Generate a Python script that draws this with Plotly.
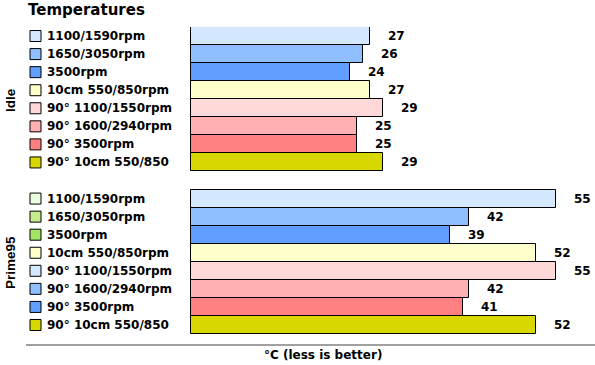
import plotly.graph_objects as go

W, H = 595, 365

groups = ["Idle", "Prime95"]
series = ["1100/1590rpm", "1650/3050rpm", "3500rpm", "10cm 550/850rpm",
          "90° 1100/1550rpm", "90° 1600/2940rpm", "90° 3500rpm", "90° 10cm 550/850"]
idle_values = [27, 26, 24, 27, 29, 25, 25, 29]
prime_values = [55, 42, 39, 52, 55, 42, 41, 52]
bar_colors = ["#d4e8ff", "#8fbfff", "#609fff", "#ffffcc",
              "#ffd8d8", "#ffb0b0", "#ff8080", "#d8d800"]
idle_swatch = bar_colors
prime_swatch = ["#eaffdd", "#c4ec8c", "#a4e664", "#ffffcc",
                "#d4e8ff", "#8fbfff", "#609fff", "#d8d800"]

cats, vals, cols, sw, labels = [], [], [], [], []
for g, values, swatches in [("Idle", idle_values, idle_swatch), ("Prime95", prime_values, prime_swatch)]:
    for s, v, c, sc in zip(series, values, bar_colors, swatches):
        cats.append(g + "|" + s)
        vals.append(v)
        cols.append(c)
        sw.append(sc)
        labels.append(s)
all_cats = cats[:8] + ["spacer"] + cats[8:]

px_per_unit = 6.63
x0_px = 191
axis_left_px = 26
xmin = -(x0_px - axis_left_px) / px_per_unit
xmax = (W - x0_px) / px_per_unit
swatch_x = (35.5 - x0_px) / px_per_unit

fig = go.Figure()
fig.add_trace(go.Bar(
    y=cats, x=vals, orientation="h",
    marker=dict(color=cols, line=dict(color="black", width=1)),
    width=1.0, hoverinfo="x+y", showlegend=False,
))
fig.add_trace(go.Scatter(
    y=cats, x=[swatch_x] * len(cats), mode="markers",
    marker=dict(symbol="square", size=11, color=sw, line=dict(color="black", width=1)),
    showlegend=False, hoverinfo="skip", cliponaxis=False,
))

bold = "bold"
annotations = []
for c, lab in zip(cats, labels):
    annotations.append(dict(x=45 / W, xref="paper", y=c, yref="y", text=lab,
                            showarrow=False, xanchor="left", yanchor="middle",
                            font=dict(family="DejaVu Sans", size=12, color="#000000", weight=bold)))
for c, v in zip(cats, vals):
    annotations.append(dict(x=v, xref="x", y=c, yref="y", text=str(v), xshift=16,
                            showarrow=False, xanchor="left", yanchor="middle",
                            font=dict(family="DejaVu Sans", size=12, color="#000000", weight=bold)))
for g, y_px in [("Idle", 100), ("Prime95", 263)]:
    annotations.append(dict(x=10 / W, xref="paper", y=1 - y_px / H, yref="paper", text=g,
                            textangle=-90, showarrow=False, xanchor="center", yanchor="middle",
                            font=dict(family="Liberation Sans", size=13.5, color="#000000", weight=bold)))
annotations.append(dict(x=26 / W, xref="paper", y=1 - 10 / H, yref="paper", text="Temperatures",
                        showarrow=False, xanchor="left", yanchor="middle",
                        font=dict(family="DejaVu Sans", size=15, color="#000000", weight=bold)))
annotations.append(dict(x=323 / W, xref="paper", y=1 - 355 / H, yref="paper", text="°C (less is better)",
                        showarrow=False, xanchor="center", yanchor="middle",
                        font=dict(family="DejaVu Sans", size=12, color="#000000", weight=bold)))

top_px = 27
bottom_px = 344.3
slot = 18.06
r_lo = -0.5
r_hi = r_lo + (bottom_px - top_px) / slot

fig.update_layout(
    width=W, height=H,
    margin=dict(l=0, r=0, t=0, b=0),
    paper_bgcolor="white", plot_bgcolor="white",
    bargap=0,
    font=dict(family="DejaVu Sans", size=12, color="#000"),
    xaxis=dict(domain=[axis_left_px / W, 1], range=[xmin, xmax], showgrid=False, zeroline=False,
               showticklabels=False, ticks="", showline=True, linecolor="#a0a0a0", linewidth=2,
               fixedrange=True),
    yaxis=dict(domain=[(H - bottom_px) / H, (H - top_px) / H], type="category",
               categoryorder="array", categoryarray=all_cats,
               range=[r_hi, r_lo], showgrid=False, zeroline=False, showticklabels=False,
               ticks="", showline=False),
    annotations=annotations,
    showlegend=False,
)

fig.write_html("out.html", config={"displayModeBar": False},
               post_script="document.body.style.margin='0';document.body.style.padding='0';")
